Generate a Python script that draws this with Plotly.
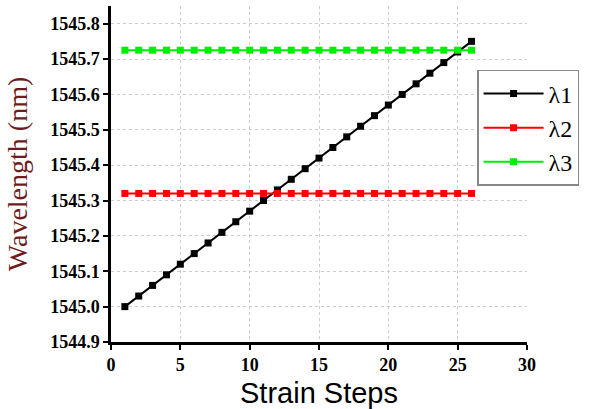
import plotly.graph_objects as go

steps = [1, 2, 3, 4, 5, 6, 7, 8, 9, 10, 11, 12, 13, 14, 15, 16, 17, 18, 19, 20, 21, 22, 23, 24, 25, 26]
lambda1 = [1545.00, 1545.03, 1545.06, 1545.09, 1545.12, 1545.15, 1545.18, 1545.21, 1545.24, 1545.27,
           1545.30, 1545.33, 1545.36, 1545.39, 1545.42, 1545.45, 1545.48, 1545.51, 1545.54, 1545.57,
           1545.60, 1545.63, 1545.66, 1545.69, 1545.72, 1545.75]
lambda2 = [1545.32, 1545.32, 1545.32, 1545.32, 1545.32, 1545.32, 1545.32, 1545.32, 1545.32, 1545.32,
           1545.32, 1545.32, 1545.32, 1545.32, 1545.32, 1545.32, 1545.32, 1545.32, 1545.32, 1545.32,
           1545.32, 1545.32, 1545.32, 1545.32, 1545.32, 1545.32]
lambda3 = [1545.725, 1545.725, 1545.725, 1545.725, 1545.725, 1545.725, 1545.725, 1545.725, 1545.725, 1545.725,
           1545.725, 1545.725, 1545.725, 1545.725, 1545.725, 1545.725, 1545.725, 1545.725, 1545.725, 1545.725,
           1545.725, 1545.725, 1545.725, 1545.725, 1545.725, 1545.725]
names = ["λ1", "λ2", "λ3"]
colors = ["#000000", "#ff0000", "#00ee00"]
x_ticks = [0, 5, 10, 15, 20, 25, 30]
y_ticks = [1544.9, 1545.0, 1545.1, 1545.2, 1545.3, 1545.4, 1545.5, 1545.6, 1545.7, 1545.8]
y_ticklabels = ["1544.9", "1545.0", "1545.1", "1545.2", "1545.3", "1545.4", "1545.5", "1545.6", "1545.7", "1545.8"]

SERIF = "Times New Roman, Liberation Serif, serif"

fig = go.Figure()
for name, ys, col in zip(names, [lambda1, lambda2, lambda3], colors):
    fig.add_trace(go.Scatter(
        x=steps, y=ys, name=name, mode="lines+markers",
        line=dict(color=col, width=2),
        marker=dict(symbol="square", size=7, color=col),
    ))

fig.update_layout(
    width=592, height=409,
    margin=dict(l=111, r=65, t=6, b=67),
    paper_bgcolor="white", plot_bgcolor="white",
    showlegend=True,
    font=dict(family=SERIF),
    legend=dict(
        x=0.88, y=0.81, xanchor="left", yanchor="top",
        bgcolor="white", bordercolor="#888888", borderwidth=1.5,
        font=dict(family=SERIF, size=24, color="black"),
        itemwidth=60, tracegroupgap=0,
    ),
)
fig.update_xaxes(
    range=[0, 30], tickvals=x_ticks, automargin=False,
    showline=True, linecolor="black", linewidth=2.5,
    ticks="outside", ticklen=5, tickwidth=2, tickcolor="black",
    showgrid=True, gridcolor="#cccccc", griddash="dot", gridwidth=1,
    zeroline=False,
    tickfont=dict(family=SERIF, size=18, color="black", weight="bold"),
    title=dict(text="Strain Steps", font=dict(family="Arial, Liberation Sans, sans-serif", size=29, color="black")),
)
fig.update_yaxes(
    range=[1544.9, 1545.85], tickvals=y_ticks, ticktext=y_ticklabels, automargin=False,
    showline=True, linecolor="black", linewidth=2.5,
    ticks="outside", ticklen=5, tickwidth=2, tickcolor="black",
    showgrid=True, gridcolor="#cccccc", griddash="dot", gridwidth=1,
    zeroline=False,
    tickfont=dict(family=SERIF, size=18, color="black", weight="bold"),
    title=dict(text="Wavelength (nm)", font=dict(family=SERIF, size=28, color="#6e1c1c")),
)

fig.write_html("out.html", config={"displayModeBar": False},
               post_script="document.body.style.margin='0';document.body.style.padding='0';")
